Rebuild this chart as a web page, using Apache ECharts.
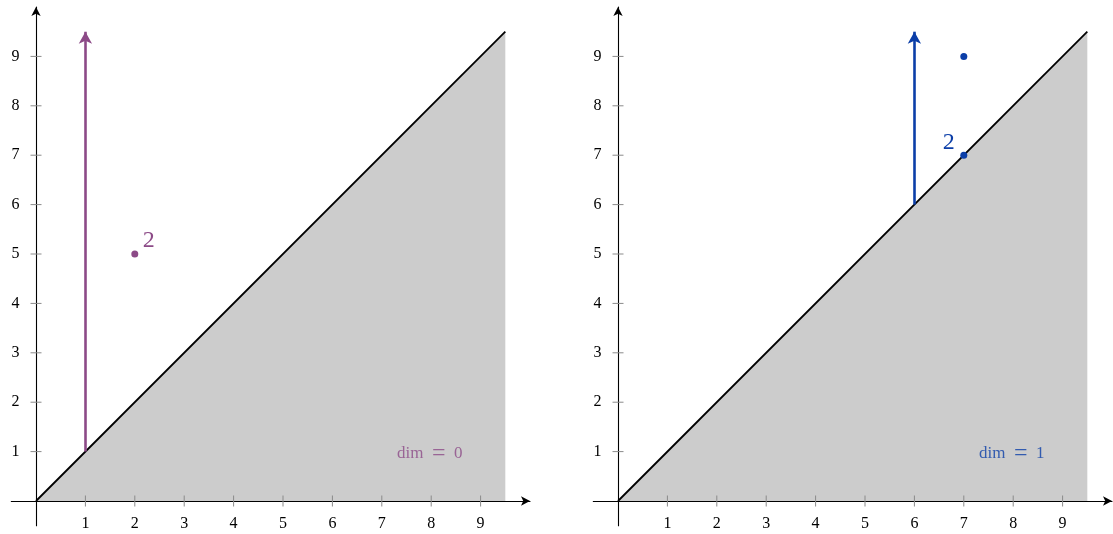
<!DOCTYPE html>
<html><head><meta charset="utf-8">
<script src="https://cdn.jsdelivr.net/npm/echarts@6/dist/echarts.min.js"></script>
<style>html,body{margin:0;padding:0;background:#fff}#c{width:1113px;height:534px}</style>
</head><body><div id="c"></div>
<script>
// ---- data ----
const tickValues = [1, 2, 3, 4, 5, 6, 7, 8, 9];
const tickLabels = ['1', '2', '3', '4', '5', '6', '7', '8', '9'];
const diagonal = [[0, 0], [9.5, 9.5]];
const dim0Points = [[2, 5]];
const dim0PointLabels = ['2'];
const dim0Arrows = [[[1, 1], [1, 9.5]]];
const dim1Points = [[7, 9], [7, 7]];
const dim1PointLabels = ['', '2'];
const dim1Arrows = [[[6, 6], [6, 9.5]]];
const panelDims = ['0', '1'];
const panelTitlePos = [[7.97, 1], [7.97, 1]];

const PURPLE = '#8c4a87';
const BLUE = '#0b3ea8';
const FONT = '"Liberation Serif", "DejaVu Serif", serif';
const unit = 49.4;
const AX_MIN = -0.5, AX_MAX = 10;
const size = (AX_MAX - AX_MIN) * unit;
const origins = [[36, 501], [618, 501]];

const grids = origins.map(o => ({
  left: o[0] + AX_MIN * unit, top: o[1] - AX_MAX * unit, width: size, height: size,
  containLabel: false, outerBoundsMode: 'none'
}));

function axis(gi) {
  return {
    type: 'value', gridIndex: gi, min: AX_MIN, max: AX_MAX,
    splitLine: { show: false },
    axisLine: { show: true, onZero: true, symbol: ['none', 'arrow'], symbolSize: [7, 9],
      symbolOffset: [0, 0], lineStyle: { color: '#000', width: 1.1 } },
    axisTick: { show: false },
    axisLabel: { show: false }
  };
}

const xAxes = [axis(0), axis(1)];
const yAxes = [axis(0), axis(1)];

const tickX = tickValues.map((v, i) => ({ value: [v, 0], label: { formatter: tickLabels[i] } }));
const tickY = tickValues.map((v, i) => ({ value: [0, v], label: { formatter: tickLabels[i] } }));
const tickLabelStyle = { show: true, color: '#000', fontFamily: FONT, fontSize: 16 };

function panelSeries(gi, color, points, labels, arrows, labelOffset, dim, tpos) {
  return [
    { type: 'line', xAxisIndex: gi, yAxisIndex: gi, data: diagonal, showSymbol: false,
      lineStyle: { color: '#000', width: 1.8 }, areaStyle: { color: '#cccccc', opacity: 1 },
      z: 1, silent: true },
    { type: 'scatter', xAxisIndex: gi, yAxisIndex: gi, data: tickX, symbol: 'rect',
      symbolSize: [1, 11], itemStyle: { color: '#8a8a8a', opacity: 1 }, z: 3, silent: true,
      label: Object.assign({ position: 'inside', offset: [0, 23] }, tickLabelStyle) },
    { type: 'scatter', xAxisIndex: gi, yAxisIndex: gi, data: tickY, symbol: 'rect',
      symbolSize: [11, 1], itemStyle: { color: '#8a8a8a', opacity: 1 }, z: 3, silent: true,
      label: Object.assign({ position: 'left', distance: 11 }, tickLabelStyle) },
    { type: 'line', xAxisIndex: gi, yAxisIndex: gi, data: [], silent: true, z: 5,
      markLine: { silent: true, symbol: ['none', 'arrow'], symbolSize: [10, 12],
        lineStyle: { color: color, width: 2.6, type: 'solid', opacity: 1 }, label: { show: false },
        data: arrows.map(a => [{ coord: a[0] }, { coord: a[1] }]) } },
    { type: 'scatter', xAxisIndex: gi, yAxisIndex: gi, silent: true, z: 6,
      data: points.map((p, i) => ({ value: p, label: { show: !!labels[i], formatter: labels[i] } })),
      symbolSize: 7, itemStyle: { color: color, opacity: 1 },
      label: { position: 'inside', offset: labelOffset, color: color, fontFamily: FONT, fontSize: 24 } },
    { type: 'scatter', xAxisIndex: gi, yAxisIndex: gi, silent: true, z: 6,
      data: [{ value: tpos, label: { show: true, formatter: '{a|dim}\u2002{e|=}\u2002{a|' + dim + '}' } }],
      symbolSize: 0, itemStyle: { color: 'transparent' },
      label: { position: 'inside', offset: [0, 2], color: color, fontFamily: FONT, fontSize: 17,
        rich: { a: { color: color, fontFamily: FONT, fontSize: 17 },
                e: { color: color, fontFamily: FONT, fontSize: 24 } } } }
  ];
}

const chart = echarts.init(document.getElementById('c'), null, { renderer: 'canvas' });
chart.setOption({
  animation: false,
  grid: grids,
  xAxis: xAxes,
  yAxis: yAxes,
  series: [
    ...panelSeries(0, PURPLE, dim0Points, dim0PointLabels, dim0Arrows, [14, -13], panelDims[0], panelTitlePos[0]),
    ...panelSeries(1, BLUE, dim1Points, dim1PointLabels, dim1Arrows, [-15, -12], panelDims[1], panelTitlePos[1])
  ]
});
</script></body></html>
